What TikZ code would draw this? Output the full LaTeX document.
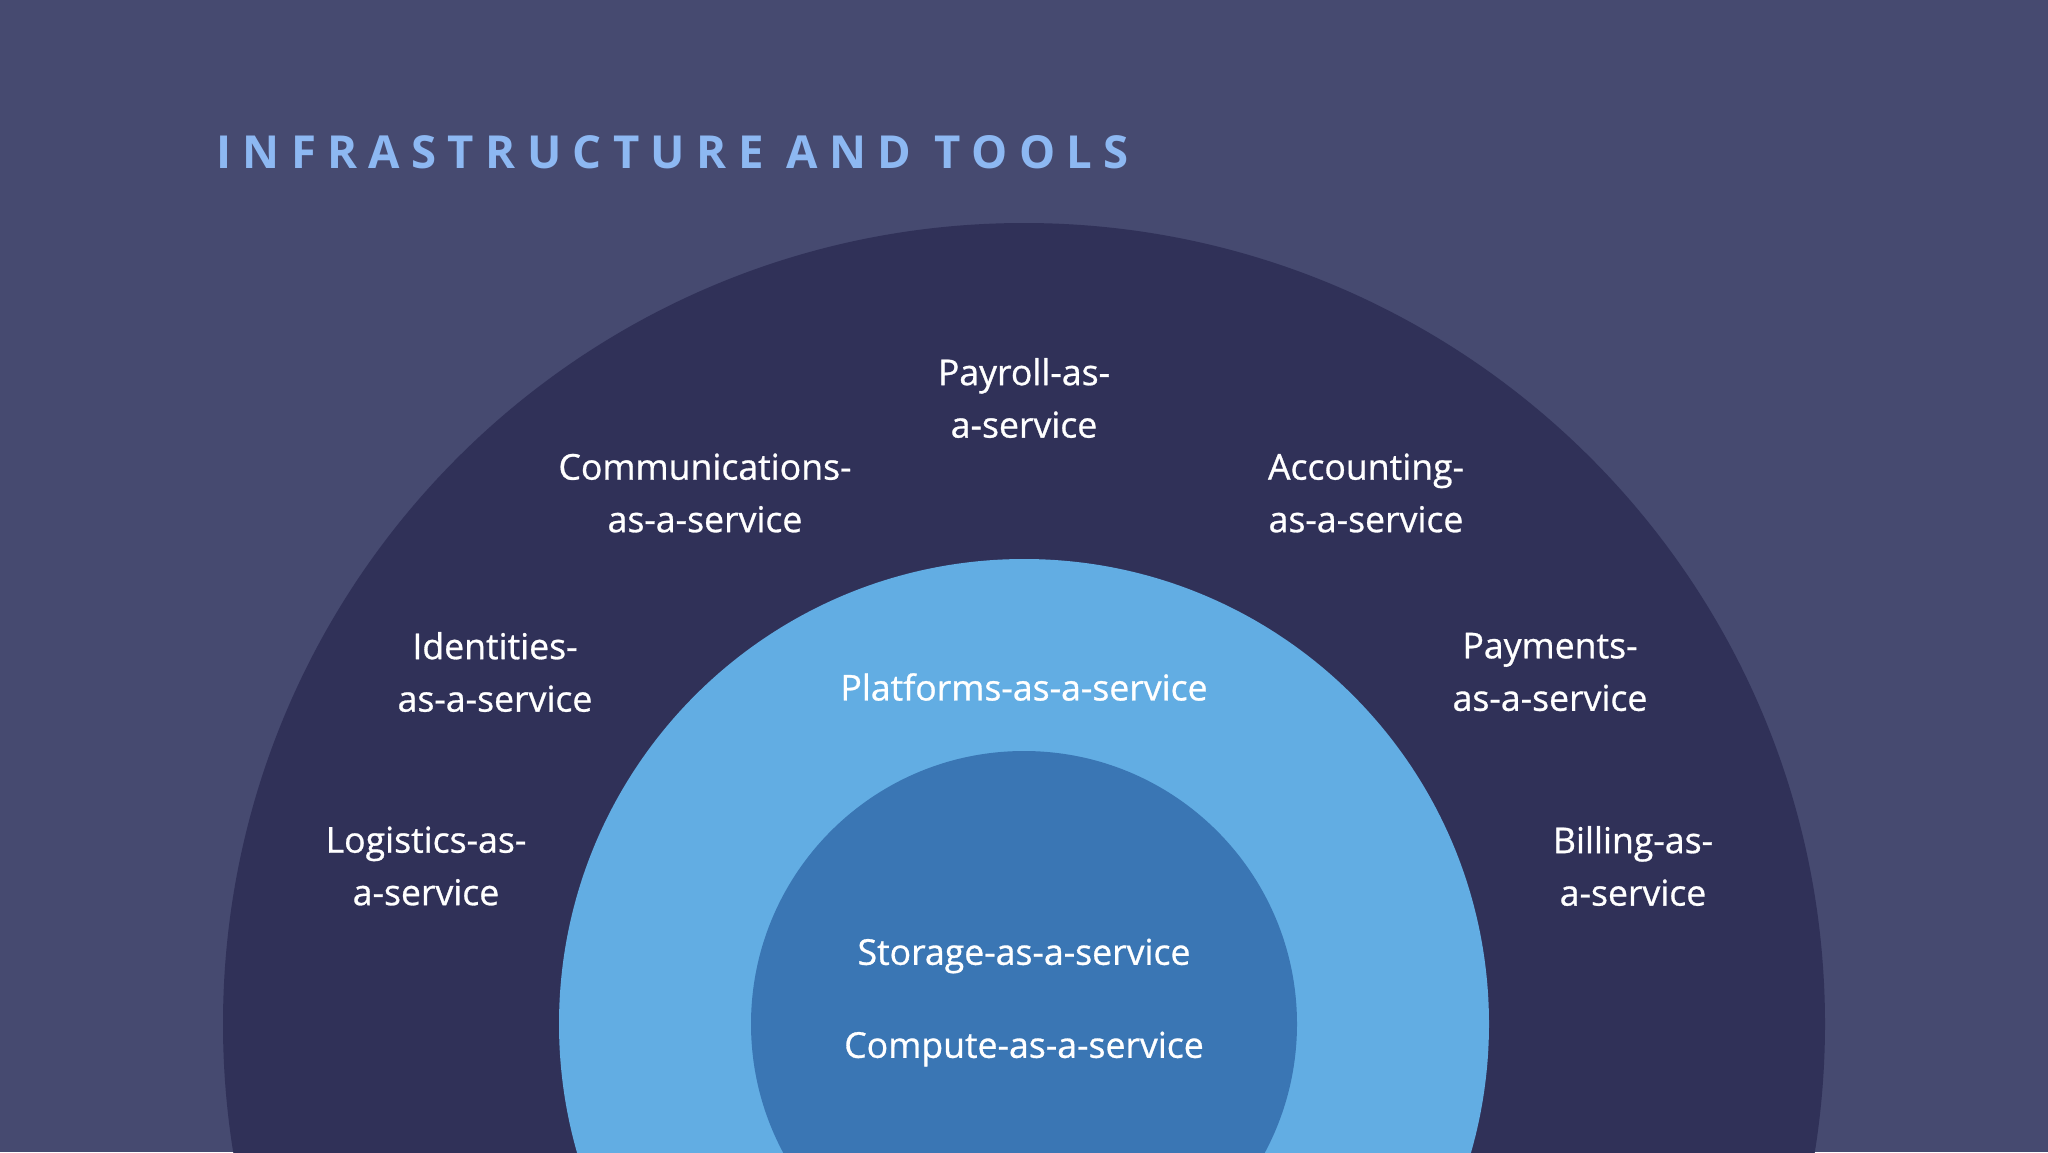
\documentclass[tikz,border=0pt]{standalone}
\usepackage{fontspec}
\setmainfont{Open Sans}
\newfontfamily\titlefont[LetterSpace=25]{Open Sans}
\newfontfamily\lblfont[FakeBold=0.8]{Open Sans}
\definecolor{bgcol}{HTML}{464A70}
\definecolor{outercol}{HTML}{303158}
\definecolor{midcol}{HTML}{62ADE3}
\definecolor{innercol}{HTML}{3A76B4}
\definecolor{titlecol}{HTML}{8DB8F2}
\tikzset{
  lbl/.style={text=white, font=\lblfont\fontsize{35.6}{52.5}\selectfont, align=center, inner sep=0pt}
}
\begin{document}
\begin{tikzpicture}[x=1pt,y=-1pt]
\fill[bgcol] (0,0) rectangle (2048,1152);
\useasboundingbox (0,0) rectangle (2048,1152);
\clip (0,0) rectangle (2048,1152);
\coordinate (c) at (1024,1024);
\fill[outercol] (c) circle[radius=801];
\fill[midcol] (c) circle[radius=465];
\fill[innercol] (c) circle[radius=273];
\node[anchor=west, text=titlecol, inner sep=0pt, font=\titlefont\bfseries\fontsize{45.5}{52}\selectfont] (title) at (216,152) {INFRASTRUCTURE AND TOOLS};
\node[lbl] (payroll) at (1024,398) {Payroll-as-\\a-service};
\node[lbl] (comm) at (705,493) {Communications-\\as-a-service};
\node[lbl] (acct) at (1366,493) {Accounting-\\as-a-service};
\node[lbl] (ident) at (495,672) {Identities-\\as-a-service};
\node[lbl] (pay) at (1550,672) {Payments-\\as-a-service};
\node[lbl] (logi) at (426,866) {Logistics-as-\\a-service};
\node[lbl] (bill) at (1633,866) {Billing-as-\\a-service};
\node[lbl] (plat) at (1024,687) {Platforms-as-a-service};
\node[lbl] (stor) at (1024,956) {Storage-as-a-service};
\node[lbl] (comp) at (1024,1049) {Compute-as-a-service};
\end{tikzpicture}
\end{document}
